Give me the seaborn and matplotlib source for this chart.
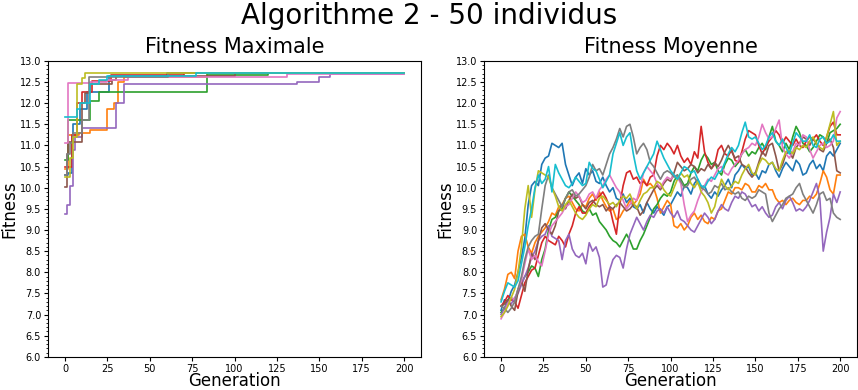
import pandas as pd
import numpy as np
import matplotlib
matplotlib.use("Agg")
import matplotlib.pyplot as plt
import seaborn as sns
from matplotlib.ticker import MultipleLocator

# runs (10 runs, tab10 colours)
runs = ["run 1", "run 2", "run 3", "run 4", "run 5",
        "run 6", "run 7", "run 8", "run 9", "run 10"]

# fitness maximale : change points (generation, value) of each step curve
max_gen = [
    [0, 2, 4, 5, 9, 13, 26, 60, 200],
    [0, 2, 8, 15, 25, 29, 31, 35, 84, 200],
    [0, 2, 15, 20, 84, 120, 200],
    [0, 2, 4, 7, 10, 16, 27, 70, 200],
    [0, 1, 3, 5, 6, 10, 30, 35, 137, 150, 156, 200],
    [0, 1, 2, 10, 12, 15, 28, 30, 100, 200],
    [0, 2, 15, 25, 37, 131, 200],
    [0, 1, 3, 5, 10, 14, 61, 200],
    [0, 3, 5, 7, 10, 12, 200],
    [0, 7, 9, 15, 20, 25, 77, 200],
]
max_val = [
    [10.30, 10.35, 11.25, 11.50, 11.85, 12.27, 12.65, 12.72, 12.72],
    [10.45, 11.25, 11.30, 11.37, 11.85, 12.00, 12.50, 12.62, 12.72, 12.72],
    [10.65, 11.60, 12.05, 12.27, 12.67, 12.72, 12.72],
    [10.50, 10.50, 11.25, 12.00, 12.27, 12.52, 12.67, 12.72, 12.72],
    [9.38, 9.60, 10.05, 10.90, 11.20, 11.42, 12.00, 12.45, 12.50, 12.62, 12.70, 12.70],
    [10.02, 10.80, 11.07, 12.00, 12.25, 12.45, 12.55, 12.65, 12.72, 12.72],
    [11.05, 12.48, 12.50, 12.55, 12.62, 12.70, 12.70],
    [10.30, 10.80, 11.05, 11.30, 11.60, 12.62, 12.72, 12.72],
    [10.25, 10.70, 11.20, 12.45, 12.60, 12.72, 12.72],
    [11.68, 11.85, 12.00, 12.45, 12.55, 12.65, 12.72, 12.72],
]

# fitness moyenne : read every 2 generations (0, 2, ..., 200)
mean_gen = list(range(0, 201, 2))
mean_val = [
    [7.10, 7.35, 7.30, 7.55, 7.70, 8.00, 8.35, 8.80, 9.60, 10.05, 10.15, 10.05, 10.55, 10.70, 10.75, 11.05, 11.00, 10.95, 11.05, 10.55,
     10.30, 10.05, 10.25, 10.35, 10.10, 10.45, 10.30, 10.40, 10.15, 10.10, 10.25, 10.05, 9.90, 10.00, 9.75, 9.70, 9.85, 9.65, 9.75, 9.55,
     9.50, 9.60, 9.40, 9.65, 9.50, 9.40, 9.55, 9.45, 9.35, 9.55, 9.60, 9.75, 9.90, 9.80, 10.05, 10.00, 9.85, 10.10, 10.20, 10.00,
     10.05, 9.85, 9.75, 9.90, 9.80, 9.95, 10.05, 10.20, 10.00, 10.30, 10.40, 10.55, 10.45, 10.50, 10.30, 10.35, 10.20, 10.40, 10.35, 10.55,
     10.60, 10.40, 10.25, 10.45, 10.60, 10.50, 10.40, 10.65, 10.55, 10.30, 10.35, 10.55, 10.65, 10.45, 10.55, 10.40, 10.75, 10.85, 10.75, 10.90,
     11.05],
    [7.35, 7.60, 7.95, 8.00, 7.85, 8.50, 8.85, 8.90, 8.60, 8.45, 8.70, 8.85, 8.95, 9.05, 9.20, 9.40, 9.35, 9.55, 9.60, 9.75,
     9.80, 9.65, 9.50, 9.45, 9.60, 9.55, 9.75, 9.85, 9.70, 9.90, 9.70, 9.55, 9.45, 9.50, 9.25, 9.30, 9.45, 9.55, 9.70, 9.60,
     9.70, 9.85, 10.20, 10.05, 10.10, 10.00, 9.75, 9.40, 9.55, 9.70, 9.60, 9.10, 9.05, 9.15, 9.00, 9.10, 9.30, 9.40, 9.25, 9.35,
     9.20, 9.15, 9.30, 9.25, 9.45, 9.50, 9.70, 9.90, 9.85, 10.00, 10.00, 9.95, 10.10, 10.05, 9.90, 9.90, 10.05, 10.00, 10.10, 9.95,
     9.95, 9.75, 9.65, 9.70, 9.60, 9.70, 9.75, 9.65, 9.60, 9.70, 9.70, 9.80, 9.75, 9.85, 10.10, 10.40, 10.25, 9.95, 9.85, 10.30,
     10.30],
    [7.05, 7.15, 7.35, 7.40, 7.30, 7.60, 7.75, 7.90, 8.00, 8.15, 8.10, 7.90, 8.30, 8.55, 9.00, 9.25, 9.30, 9.45, 9.50, 9.75,
     9.90, 9.80, 9.70, 9.60, 9.45, 9.40, 9.50, 9.35, 9.40, 9.20, 9.10, 9.00, 8.85, 8.75, 8.70, 8.60, 8.75, 8.90, 8.75, 8.55,
     8.55, 8.75, 8.90, 9.10, 9.30, 9.50, 9.60, 9.75, 9.85, 9.80, 9.90, 10.15, 10.30, 10.20, 10.05, 10.10, 10.35, 10.50, 10.40, 10.65,
     10.80, 10.70, 10.55, 10.60, 10.40, 10.30, 10.55, 10.70, 10.65, 10.50, 10.60, 10.80, 10.90, 10.75, 10.85, 10.80, 10.95, 11.05, 10.90, 11.20,
     11.45, 11.10, 11.00, 10.85, 11.05, 10.90, 11.20, 11.45, 11.30, 11.05, 11.00, 10.85, 10.95, 11.10, 11.25, 11.20, 11.05, 11.30, 11.35, 11.40,
     11.50],
    [7.20, 7.30, 7.45, 7.35, 7.30, 7.15, 7.45, 7.75, 7.90, 8.05, 8.10, 8.40, 8.70, 8.85, 8.75, 8.70, 8.65, 8.85, 8.75, 8.60,
     8.90, 9.10, 9.40, 9.55, 9.40, 9.40, 9.55, 9.65, 9.75, 9.80, 9.90, 9.75, 9.55, 9.20, 8.90, 9.60, 10.05, 10.35, 10.40, 10.20,
     10.25, 10.10, 10.15, 10.05, 10.25, 10.30, 10.75, 11.00, 10.90, 11.05, 10.95, 10.80, 11.00, 10.75, 10.60, 10.70, 10.55, 10.85, 10.70, 11.45,
     10.85, 10.60, 10.45, 10.55, 10.90, 11.00, 10.80, 10.75, 10.90, 10.65, 10.60, 10.85, 11.15, 11.35, 11.30, 11.25, 11.00, 10.80, 10.95, 11.10,
     11.20, 11.35, 11.25, 11.05, 11.20, 11.10, 11.00, 11.15, 11.00, 10.95, 11.10, 11.20, 11.15, 11.25, 11.10, 11.00, 11.20, 11.45, 11.55, 11.25,
     11.25],
    [7.00, 7.15, 7.30, 7.25, 7.40, 7.50, 7.70, 7.90, 8.10, 8.35, 8.50, 8.75, 8.85, 8.90, 9.10, 8.85, 8.80, 8.75, 8.30, 8.75,
     8.90, 8.55, 8.40, 8.35, 8.45, 8.20, 8.70, 8.50, 8.60, 8.35, 7.65, 7.70, 8.05, 8.30, 8.40, 8.35, 8.10, 8.55, 8.90, 9.10,
     9.30, 9.15, 9.00, 9.20, 9.35, 9.30, 9.45, 9.50, 9.40, 9.55, 9.40, 9.30, 9.45, 9.25, 9.20, 9.10, 9.00, 8.95, 9.10, 9.25,
     9.40, 9.30, 9.15, 9.25, 9.45, 9.60, 9.50, 9.45, 9.65, 9.80, 9.75, 9.90, 9.85, 9.70, 9.55, 9.60, 9.45, 9.55, 9.40, 9.30,
     9.35, 9.55, 9.65, 9.50, 9.70, 9.80, 9.65, 9.45, 9.50, 9.45, 9.55, 9.70, 9.90, 10.10, 9.75, 8.50, 8.95, 9.30, 9.85, 9.65,
     9.90],
    [7.20, 7.25, 7.35, 7.20, 7.10, 7.55, 7.80, 7.55, 8.05, 8.45, 8.30, 8.75, 9.05, 9.15, 9.00, 8.90, 9.10, 9.45, 9.60, 9.50,
     9.70, 9.85, 9.75, 9.80, 9.60, 9.50, 9.65, 9.70, 9.60, 9.55, 9.60, 9.45, 9.55, 9.50, 9.60, 9.65, 9.55, 9.45, 9.50, 9.60,
     9.55, 9.35, 9.45, 9.65, 9.80, 9.95, 10.05, 9.95, 10.10, 10.20, 10.15, 10.35, 10.60, 10.50, 10.40, 10.45, 10.55, 10.50, 10.35, 10.45,
     10.40, 10.55, 10.45, 10.60, 10.50, 10.65, 10.85, 11.00, 10.85, 10.70, 10.75, 10.55, 10.50, 10.35, 10.25, 10.35, 10.60, 10.85, 10.75, 11.00,
     11.05, 10.75, 10.40, 10.55, 10.80, 10.85, 10.70, 10.95, 11.05, 11.20, 11.15, 11.00, 11.15, 11.05, 10.90, 10.85, 11.05, 11.15, 10.95, 10.40,
     10.35],
    [6.90, 7.05, 7.25, 7.40, 7.35, 7.60, 7.80, 8.20, 8.55, 8.30, 8.40, 8.25, 8.15, 8.50, 8.90, 9.10, 9.20, 9.30, 9.40, 9.55,
     9.60, 9.75, 9.90, 9.80, 9.65, 9.70, 9.85, 9.90, 9.75, 9.95, 10.05, 10.20, 10.30, 10.15, 10.00, 9.90, 9.70, 9.50, 9.60, 9.75,
     9.70, 10.00, 10.35, 10.50, 10.40, 10.30, 10.10, 10.00, 10.15, 10.25, 10.20, 10.30, 10.25, 10.10, 9.60, 9.20, 9.35, 9.45, 9.70, 9.90,
     10.05, 10.20, 10.15, 10.30, 10.45, 10.50, 10.35, 10.30, 10.45, 10.55, 10.65, 10.80, 10.90, 10.95, 11.05, 11.00, 11.20, 11.50, 11.30, 11.15,
     11.20, 11.40, 11.60, 10.95, 10.80, 10.70, 10.85, 11.05, 11.00, 11.25, 11.20, 10.90, 10.70, 10.85, 11.00, 11.05, 10.95, 11.00, 11.10, 11.65,
     11.80],
    [7.20, 7.15, 7.05, 7.15, 7.30, 7.60, 7.90, 8.30, 8.60, 8.75, 8.85, 8.90, 9.50, 10.05, 10.30, 10.00, 9.85, 9.70, 9.55, 9.75,
     9.90, 9.95, 9.80, 9.85, 9.95, 10.05, 10.25, 10.55, 10.40, 10.45, 10.30, 10.55, 10.80, 10.95, 11.15, 11.40, 11.20, 11.45, 11.50, 11.20,
     10.80, 10.95, 11.05, 10.90, 10.60, 10.50, 10.35, 10.20, 10.35, 10.40, 10.35, 10.25, 10.30, 10.15, 10.00, 10.05, 10.20, 10.25, 10.10, 10.00,
     9.95, 9.85, 9.90, 10.05, 10.00, 10.10, 9.95, 10.00, 9.90, 9.85, 9.90, 9.75, 9.70, 9.80, 9.75, 9.80, 9.95, 9.90, 9.85, 9.40,
     9.20, 9.35, 9.50, 9.60, 9.75, 9.80, 9.85, 10.00, 10.10, 9.85, 9.70, 9.55, 9.40, 9.60, 9.85, 9.90, 9.70, 9.75, 9.40, 9.30,
     9.25],
    [6.95, 7.05, 7.20, 7.40, 7.60, 8.00, 8.60, 9.50, 10.05, 9.30, 9.95, 10.40, 10.35, 10.30, 10.25, 10.00, 9.80, 9.55, 9.45, 9.60,
     9.70, 9.55, 9.40, 9.30, 9.25, 9.35, 9.50, 9.60, 9.55, 9.75, 9.80, 9.70, 9.60, 9.65, 9.55, 9.70, 9.80, 9.75, 9.85, 9.65,
     9.50, 9.70, 9.85, 9.90, 10.00, 10.00, 10.15, 10.10, 9.95, 9.85, 9.80, 10.00, 10.20, 10.35, 10.25, 10.30, 10.10, 10.00, 10.15, 9.90,
     9.80, 9.65, 9.40, 9.55, 9.90, 10.20, 10.05, 9.95, 10.05, 10.15, 10.10, 10.30, 10.45, 10.55, 10.35, 10.30, 10.55, 10.70, 10.65, 10.55,
     10.60, 10.45, 10.40, 10.65, 10.85, 10.90, 10.80, 10.95, 10.90, 11.00, 10.95, 11.10, 11.20, 11.05, 10.95, 10.90, 11.20, 11.50, 11.80, 11.00,
     11.10],
    [7.30, 7.55, 7.75, 7.70, 7.65, 7.80, 8.20, 8.60, 9.10, 9.50, 10.00, 10.30, 10.10, 10.20, 10.50, 9.90, 10.55, 10.35, 10.20, 10.05,
     10.00, 10.10, 10.25, 10.15, 10.05, 10.10, 10.60, 10.45, 10.40, 10.20, 10.00, 10.15, 10.30, 10.80, 11.05, 11.30, 11.00, 11.20, 11.30, 10.80,
     10.40, 10.20, 10.35, 10.50, 10.65, 10.80, 11.10, 10.90, 10.70, 10.55, 10.40, 10.30, 10.20, 10.35, 10.50, 10.45, 10.35, 10.40, 10.20, 10.05,
     10.00, 10.15, 10.25, 10.20, 10.35, 10.40, 10.60, 10.80, 10.95, 10.85, 11.00, 11.30, 11.55, 11.20, 11.15, 11.20, 11.05, 10.90, 11.00, 11.20,
     11.30, 11.10, 11.00, 11.15, 10.95, 10.80, 11.05, 11.30, 11.20, 11.10, 11.10, 11.25, 11.00, 10.95, 11.15, 11.20, 11.05, 11.10, 11.25, 11.10,
     11.10],
]

# tables longues pour seaborn
rows = []
for r, g, v in zip(runs, max_gen, max_val):
    for gi, vi in zip(g, v):
        rows.append((r, gi, vi))
df_max = pd.DataFrame(rows, columns=["run", "generation", "fitness"])

rows = []
for r, v in zip(runs, mean_val):
    assert len(v) == len(mean_gen)
    for gi, vi in zip(mean_gen, v):
        rows.append((r, gi, vi))
df_mean = pd.DataFrame(rows, columns=["run", "generation", "fitness"])

palette = sns.color_palette("tab10", 10)

fig, axes = plt.subplots(1, 2, figsize=(8.58, 3.9), dpi=100)
fig.subplots_adjust(left=0.056, right=0.999, top=0.844, bottom=0.085, wspace=0.169)
fig.suptitle("Algorithme 2 - 50 individus", fontsize=20, y=0.995)

sns.lineplot(data=df_max, x="generation", y="fitness", hue="run", palette=palette,
             drawstyle="steps-post", linewidth=1.2, legend=False, ax=axes[0])
sns.lineplot(data=df_mean, x="generation", y="fitness", hue="run", palette=palette,
             linewidth=1.2, legend=False, ax=axes[1])

titles = ["Fitness Maximale", "Fitness Moyenne"]
for ax, t in zip(axes, titles):
    ax.set_title(t, fontsize=15)
    ax.set_xlabel("Generation", fontsize=12, labelpad=-1)
    ax.set_ylabel("Fitness", fontsize=12, labelpad=1)
    ax.set_ylim(6, 13)
    ax.set_xlim(-10, 210)
    ax.set_xticks([0, 25, 50, 75, 100, 125, 150, 175, 200])
    ax.yaxis.set_major_locator(MultipleLocator(0.5))
    ax.yaxis.set_minor_locator(MultipleLocator(0.1))
    ax.tick_params(labelsize=7, pad=2)
    ax.tick_params(which="major", length=3)
    ax.tick_params(which="minor", length=1.5)

plt.savefig("out.png", dpi=100)
